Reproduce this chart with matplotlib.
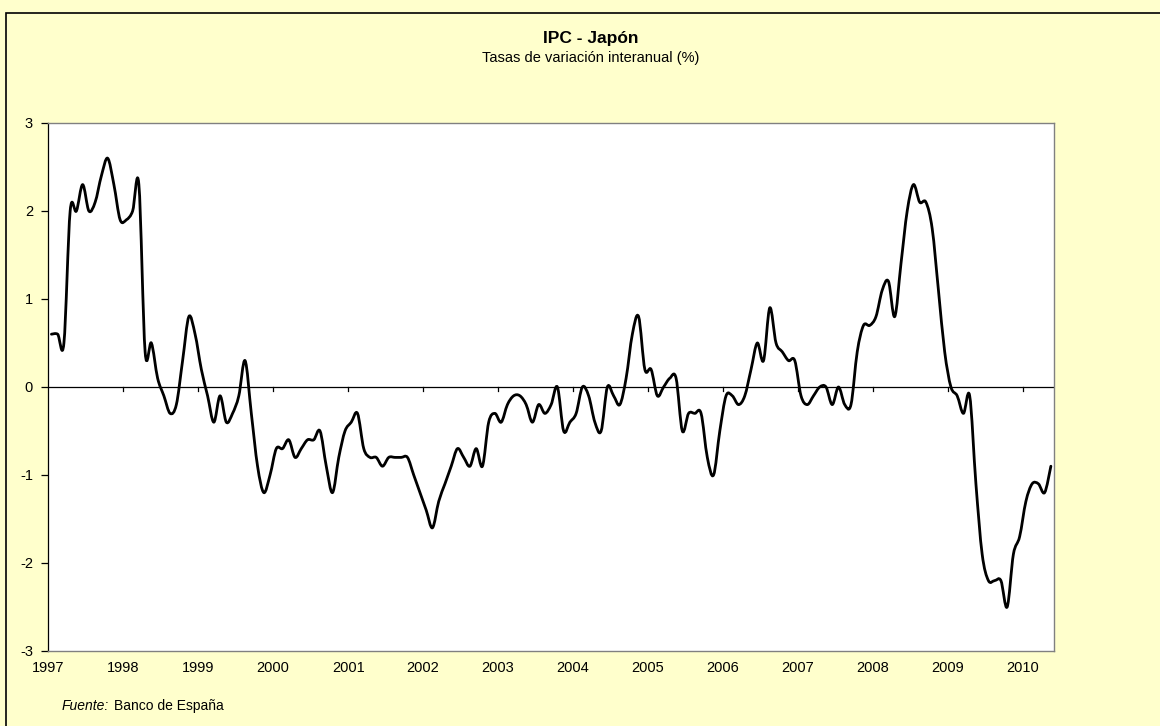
import numpy as np
import matplotlib
matplotlib.use('Agg')
import matplotlib.pyplot as plt
from matplotlib.patches import Rectangle, PathPatch
from matplotlib.path import Path

plt.rcParams['font.family'] = ['Liberation Sans', 'DejaVu Sans']

# IPC Japón, tasa interanual (%), mensual ene-1997 .. may-2010
years = [str(y) for y in range(1997, 2011)]
ipc = [
    0.6, 0.6, 0.5, 2.0, 2.0, 2.3, 2.0, 2.1, 2.4, 2.6, 2.3, 1.9,          # 1997
    1.9, 2.0, 2.3, 0.4, 0.5, 0.1, -0.1, -0.3, -0.2, 0.3, 0.8, 0.6,      # 1998
    0.2, -0.1, -0.4, -0.1, -0.4, -0.3, -0.1, 0.3, -0.3, -0.9, -1.2, -1.0,  # 1999
    -0.7, -0.7, -0.6, -0.8, -0.7, -0.6, -0.6, -0.5, -0.9, -1.2, -0.8, -0.5,  # 2000
    -0.4, -0.3, -0.7, -0.8, -0.8, -0.9, -0.8, -0.8, -0.8, -0.8, -1.0, -1.2,  # 2001
    -1.4, -1.6, -1.3, -1.1, -0.9, -0.7, -0.8, -0.9, -0.7, -0.9, -0.4, -0.3,  # 2002
    -0.4, -0.2, -0.1, -0.1, -0.2, -0.4, -0.2, -0.3, -0.2, 0.0, -0.5, -0.4,   # 2003
    -0.3, 0.0, -0.1, -0.4, -0.5, 0.0, -0.1, -0.2, 0.1, 0.6, 0.8, 0.2,        # 2004
    0.2, -0.1, 0.0, 0.1, 0.1, -0.5, -0.3, -0.3, -0.3, -0.8, -1.0, -0.5,      # 2005
    -0.1, -0.1, -0.2, -0.1, 0.2, 0.5, 0.3, 0.9, 0.5, 0.4, 0.3, 0.3,          # 2006
    -0.1, -0.2, -0.1, 0.0, 0.0, -0.2, 0.0, -0.2, -0.2, 0.4, 0.7, 0.7,        # 2007
    0.8, 1.1, 1.2, 0.8, 1.4, 2.0, 2.3, 2.1, 2.1, 1.8, 1.1, 0.4,              # 2008
    0.0, -0.1, -0.3, -0.1, -1.1, -1.9, -2.2, -2.2, -2.2, -2.5, -1.9, -1.7,   # 2009
    -1.3, -1.1, -1.1, -1.2, -0.9,                                            # 2010
]
yticks = [3, 2, 1, 0, -1, -2, -3]

BG = '#FFFFCC'
W, H = 1160, 726


def smooth_path(xs, ys):
    # Excel-style smoothed line: cubic Bezier through every point
    pts = np.column_stack([xs, ys]).astype(float)
    n = len(pts)
    verts = [pts[0]]
    codes = [Path.MOVETO]
    for i in range(n - 1):
        p0 = pts[max(i - 1, 0)]
        p1 = pts[i]
        p2 = pts[i + 1]
        p3 = pts[min(i + 2, n - 1)]
        verts += [p1 + (p2 - p0) / 6, p2 - (p3 - p1) / 6, p2]
        codes += [Path.CURVE4] * 3
    return Path(verts, codes)


fig = plt.figure(figsize=(W / 100, H / 100), dpi=100, facecolor=BG)
# chart area border
fig.patches.append(Rectangle((6 / W, -0.1), 1.2, 1 - 13 / H + 0.1,
                             transform=fig.transFigure, fill=False,
                             ec='black', lw=1.2))

ax = fig.add_axes([48.3 / W, 1 - 651 / H, (1054 - 48.3) / W, (651 - 123) / H])
ax.set_facecolor('white')

x = np.arange(len(ipc))
ax.add_patch(PathPatch(smooth_path(x, ipc), fill=False, ec='black', lw=2.0,
                       joinstyle='round', capstyle='round', zorder=3))
ax.axhline(0, color='black', lw=0.9, zorder=2)

ax.set_xlim(-0.5, len(ipc) - 0.5)
ax.set_ylim(-3, 3)

# year labels at category boundaries, no tick marks on the bottom
bounds = np.arange(len(years)) * 12 - 0.5
ax.set_xticks(bounds)
ax.set_xticklabels(years, fontsize=10.5)
ax.tick_params(axis='x', length=0, pad=7)

# tick marks sitting on the zero line
for b in bounds[1:]:
    ax.plot([b, b], [0, -0.05], color='black', lw=0.9, zorder=2)

ax.set_yticks(yticks)
ax.set_yticklabels([str(v) for v in yticks], fontsize=10.5)
ax.tick_params(axis='y', length=5, width=0.9, color='black', pad=6, direction='out')

for s in ['top', 'right', 'bottom']:
    ax.spines[s].set_color('#808080')
    ax.spines[s].set_linewidth(1.0)
ax.spines['left'].set_color('black')
ax.spines['left'].set_linewidth(0.9)

fig.text(591 / W, 1 - 39 / H, 'IPC - Japón', ha='center', va='center',
         fontsize=12.5, fontweight='bold')
fig.text(591 / W, 1 - 58 / H, 'Tasas de variación interanual (%)', ha='center',
         va='center', fontsize=10.5)

fig.text(62 / W, 1 - 706 / H, 'Fuente:', ha='left', va='center',
         fontsize=10, style='italic')
fig.text(114 / W, 1 - 706 / H, 'Banco de España', ha='left', va='center',
         fontsize=10)

fig.savefig('out.png', dpi=100, facecolor=BG)
